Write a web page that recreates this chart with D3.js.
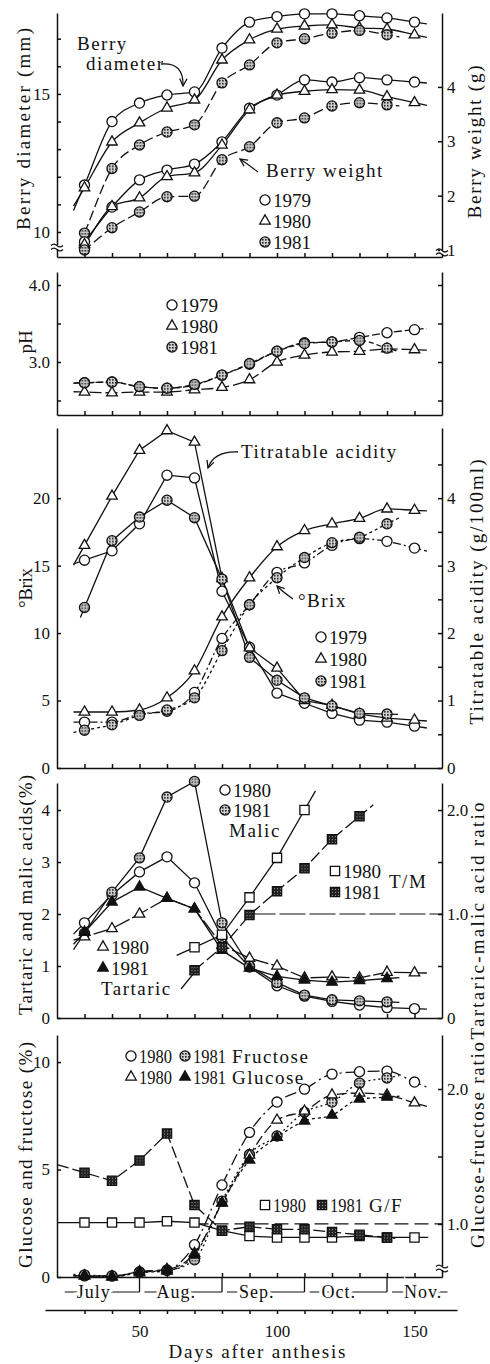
<!DOCTYPE html>
<html lang="en">
<head>
<meta charset="UTF-8" />
<title>Berry development 1979-1981</title>
<script src="https://d3js.org/d3.v7.min.js"></script>
<style>
  body { margin: 0; background: #fff; }
  svg { display: block; background: #fff; font-family: "Liberation Serif", "DejaVu Serif", serif; }
  .axis path, .axis line { stroke: #111; stroke-width: 1.5px; }
  .axis text { font-size: 17px; fill: #111; font-family: "Liberation Serif", serif; }
  .series { fill: none; stroke: #111; stroke-width: 1.3px; }
  .note { font-size: 19px; fill: #111; letter-spacing: 1.5px; }
  .title { font-size: 19px; fill: #111; }
  .leg { font-size: 19px; fill: #111; }
  .month { font-size: 18px; fill: #111; stroke: #fff; stroke-width: 6px; paint-order: stroke; letter-spacing: 1px; }
</style>
</head>
<body>
<svg id="chart" width="490" height="1364"></svg>
<script>
// ---------------------------------------------------------------
// data (days after anthesis)
// ---------------------------------------------------------------
const days = [30, 40, 50, 60, 70, 80, 90, 100, 110, 120, 130, 140, 150];
const days81 = [30, 40, 50, 60, 70, 80, 90, 100, 110, 120, 130, 140];

// berry diameter (mm) and berry weight (g)
const diam1979 = [11.7, 14.0, 14.67, 14.96, 15.07, 16.66, 17.6, 17.8, 17.9, 17.9, 17.83, 17.75, 17.6];
const diam1980 = [11.6, 13.26, 13.95, 14.49, 14.78, 16.23, 16.96, 17.35, 17.46, 17.5, 17.39, 17.35, 17.14];
const diam1981 = [9.96, 12.3, 13.15, 13.62, 13.88, 15.4, 16.05, 16.85, 17.0, 17.2, 17.3, 17.14];
const wt1979 = [1.15, 1.79, 2.29, 2.47, 2.58, 2.99, 3.61, 3.85, 4.13, 4.09, 4.17, 4.13, 4.09];
const wt1980 = [1.1, 1.8, 1.96, 2.35, 2.42, 2.93, 3.58, 3.85, 3.92, 3.95, 3.94, 3.82, 3.71];
const wt1981 = [1.0, 1.41, 1.7, 1.98, 1.99, 2.66, 2.9, 3.34, 3.43, 3.65, 3.71, 3.67];

// pH
const ph1979 = [2.73, 2.74, 2.68, 2.66, 2.70, 2.83, 2.97, 3.14, 3.25, 3.26, 3.32, 3.38, 3.42];
const ph1980 = [2.61, 2.60, 2.61, 2.61, 2.64, 2.67, 2.77, 3.0, 3.09, 3.13, 3.14, 3.17, 3.16];
const ph1981 = [2.73, 2.74, 2.68, 2.66, 2.71, 2.83, 2.98, 3.14, 3.24, 3.26, 3.28, 3.18];

// titratable acidity (g/100ml) and Brix
const ta1979 = [3.08, 3.22, 3.62, 4.34, 4.3, 2.62, 1.79, 1.11, 0.96, 0.81, 0.71, 0.68, 0.62];
const ta1980 = [3.3, 4.03, 4.71, 5.0, 4.83, 2.81, 1.78, 1.48, 1.0, 0.93, 0.8, 0.74, 0.71];
const ta1981 = [2.38, 3.37, 3.72, 3.97, 3.71, 2.8, 1.64, 1.3, 1.04, 0.92, 0.81, 0.8];
const brix1979 = [3.4, 3.4, 4.0, 4.2, 5.6, 9.6, 12.1, 14.5, 15.2, 16.5, 17.0, 16.8, 16.3];
const brix1980 = [4.15, 4.15, 4.3, 5.2, 7.2, 11.2, 14.1, 16.4, 17.6, 18.1, 18.5, 19.2, 19.1];
const brix1981 = [2.8, 3.2, 3.9, 4.3, 5.2, 8.7, 12.1, 14.1, 15.6, 16.7, 17.1, 18.1];

// tartaric and malic acids (%) and T/M ratio
const mal1980 = [1.83, 2.37, 2.81, 3.1, 2.6, 1.55, 0.98, 0.62, 0.42, 0.32, 0.25, 0.2, 0.18];
const mal1981 = [1.63, 2.42, 3.08, 4.25, 4.55, 1.83, 1.0, 0.68, 0.44, 0.35, 0.33, 0.31];
const tar1980 = [1.56, 1.72, 2.0, 2.3, 2.1, 1.4, 1.15, 1.0, 0.77, 0.79, 0.77, 0.88, 0.87];
const tar1981 = [1.65, 2.23, 2.52, 2.3, 2.1, 1.3, 0.96, 0.8, 0.73, 0.69, 0.72, 0.76];
const tmDays80 = [70, 80, 90, 100, 110];
const tm1980 = [0.68, 0.8, 1.16, 1.54, 2.0];
const tmDays81 = [70, 80, 90, 100, 110, 120, 130];
const tm1981 = [0.46, 0.68, 0.99, 1.22, 1.44, 1.72, 1.94];

// glucose and fructose (%) and G/F ratio
const fru1980 = [0.05, 0.05, 0.23, 0.33, 1.5, 4.28, 6.73, 8.14, 8.74, 9.44, 9.55, 9.58, 9.07];
const fru1981 = [0.1, 0.05, 0.23, 0.3, 0.8, 3.53, 5.7, 6.56, 7.67, 8.14, 9.02, 9.26];
const glu1980 = [0.05, 0.02, 0.25, 0.35, 1.1, 3.44, 5.67, 7.3, 7.72, 8.47, 8.56, 8.47, 8.1];
const glu1981 = [0.05, 0.0, 0.2, 0.28, 1.02, 3.45, 5.44, 6.5, 7.26, 7.53, 8.28, 8.37];
const gf1980 = [1.01, 1.01, 1.01, 1.02, 1.01, 0.95, 0.91, 0.9, 0.9, 0.9, 0.91, 0.9, 0.9];
const gf1981 = [1.38, 1.32, 1.47, 1.67, 1.14, 0.95, 0.98, 0.96, 0.96, 0.94, 0.92, 0.9];

// months below the last panel
const monthNames = ["July", "Aug.", "Sep.", "Oct.", "Nov."];
const monthEdges = [21, 50, 80, 110, 140, 162];
const dayTicks = [30, 40, 50, 60, 70, 80, 90, 100, 110, 120, 130, 140, 150];
const dayLabels = [50, 100, 150];

// ---------------------------------------------------------------
// setup
// ---------------------------------------------------------------
const svg = d3.select("#chart");
const x = d3.scaleLinear().domain([20, 160]).range([57, 442]);
const smooth = d3.curveMonotoneX;
const straight = d3.curveLinear;

const defs = svg.append("defs");
const dots = defs.append("pattern").attr("id", "dots")
  .attr("width", 3).attr("height", 3).attr("patternUnits", "userSpaceOnUse");
dots.append("rect").attr("width", 3).attr("height", 3).attr("fill", "#cfcfcf");
dots.append("rect").attr("width", 1.6).attr("height", 1.6).attr("fill", "#222");
const grid = defs.append("pattern").attr("id", "grid")
  .attr("width", 3).attr("height", 3).attr("patternUnits", "userSpaceOnUse");
grid.append("rect").attr("width", 3).attr("height", 3).attr("fill", "#222");
grid.append("rect").attr("width", 1).attr("height", 1).attr("fill", "#999");
defs.append("marker").attr("id", "arrow")
  .attr("viewBox", "0 0 10 10").attr("refX", 9).attr("refY", 5)
  .attr("markerWidth", 7).attr("markerHeight", 7).attr("orient", "auto")
  .append("path").attr("d", "M1,1 L9,5 L1,9")
  .attr("fill", "none").attr("stroke", "#111").attr("stroke-width", 1.4);

const symbols = {
  oc: { type: d3.symbolCircle, size: 80, fill: "#fff" },
  dc: { type: d3.symbolCircle, size: 80, fill: "url(#dots)" },
  ot: { type: d3.symbolTriangle, size: 48, fill: "#fff" },
  ft: { type: d3.symbolTriangle, size: 48, fill: "#111" },
  os: { type: d3.symbolSquare, size: 85, fill: "#fff" },
  fs: { type: d3.symbolSquare, size: 85, fill: "url(#grid)" },
};

function drawSymbol(g, sym, cx, cy) {
  const s = symbols[sym];
  g.append("path")
    .attr("d", d3.symbol().type(s.type).size(s.size)())
    .attr("transform", `translate(${cx},${cy})`)
    .attr("fill", s.fill).attr("stroke", "#111").attr("stroke-width", 1.3);
}

// short stubs before the first and after the last point, like the hand-drawn curves
function extended(pts, a, b) {
  const n = pts.length;
  const p0 = pts[0], p1 = pts[1], q0 = pts[n - 1], q1 = pts[n - 2];
  return [
    [p0[0] - (p1[0] - p0[0]) * a, p0[1] - (p1[1] - p0[1]) * a],
    ...pts,
    [q0[0] + (q0[0] - q1[0]) * b, q0[1] + (q0[1] - q1[1]) * b],
  ];
}

// ---------------------------------------------------------------
// panels
// ---------------------------------------------------------------
const panels = [
  {
    top: 13, bottom: 257, left: [9.094, 17.93], right: [0.871, 5.36],
    lTicks: [10, 11, 12, 13, 14, 15, 16, 17], lShow: [10, 15], lFmt: d3.format("d"),
    rTicks: [1, 2, 3, 4], rShow: [1, 2, 3, 4], rFmt: d3.format("d"),
    series: [
      { xs: days, ys: diam1979, side: "L", sym: "oc", curve: smooth },
      { xs: days, ys: diam1980, side: "L", sym: "ot", curve: smooth },
      { xs: days81, ys: diam1981, side: "L", sym: "dc", curve: smooth, dash: "10,4", ext: [0.2, 0.45] },
      { xs: days, ys: wt1979, side: "R", sym: "oc", curve: smooth, ext: [0.05, 0.45] },
      { xs: days, ys: wt1980, side: "R", sym: "ot", curve: smooth, ext: [0.05, 0.45] },
      { xs: days81, ys: wt1981, side: "R", sym: "dc", curve: smooth, dash: "10,4", ext: [0.05, 0.45] },
    ],
  },
  {
    top: 272, bottom: 415, left: [2.312, 4.169], right: [2.312, 4.169],
    lTicks: [2.5, 3, 3.5, 4], lShow: [3, 4], lFmt: d3.format(".1f"),
    rTicks: [2.5, 3, 3.5, 4], rShow: [], rFmt: d3.format(".1f"),
    series: [
      { xs: days, ys: ph1979, side: "L", sym: "oc", curve: smooth, dash: "8,3" },
      { xs: days, ys: ph1980, side: "L", sym: "ot", curve: smooth, dash: "12,4" },
      { xs: days81, ys: ph1981, side: "L", sym: "dc", curve: smooth, dash: "5,3" },
    ],
  },
  {
    top: 428, bottom: 768, left: [0, 25.2], right: [0, 5.04],
    lTicks: [0, 5, 10, 15, 20], lShow: [0, 5, 10, 15, 20], lFmt: d3.format("d"),
    rTicks: [0, 0.5, 1, 1.5, 2, 2.5, 3, 3.5, 4, 4.5], rShow: [0, 1, 2, 3, 4], rFmt: d3.format("d"),
    series: [
      { xs: days, ys: ta1979, side: "R", sym: "oc", curve: straight },
      { xs: days, ys: ta1980, side: "R", sym: "ot", curve: straight },
      { xs: days81, ys: ta1981, side: "R", sym: "dc", curve: straight, ext: [0.15, 0.4] },
      { xs: days, ys: brix1979, side: "L", sym: "oc", curve: smooth, dash: "8,3,2,3" },
      { xs: days, ys: brix1980, side: "L", sym: "ot", curve: smooth },
      { xs: days81, ys: brix1981, side: "L", sym: "dc", curve: smooth, dash: "3,3" },
    ],
  },
  {
    top: 783, bottom: 1018, left: [0, 4.52], right: [0, 2.26],
    lTicks: [0, 1, 2, 3, 4], lShow: [0, 1, 2, 3, 4], lFmt: d3.format("d"),
    rTicks: [0, 0.5, 1, 1.5, 2], rShow: [0, 1, 2], rFmt: d => (d === 0 ? "0" : d3.format(".1f")(d)),
    refLine: { from: 90, value: 1.0, dash: "26,4" },
    series: [
      { xs: days, ys: mal1980, side: "L", sym: "oc", curve: straight },
      { xs: days81, ys: mal1981, side: "L", sym: "dc", curve: straight },
      { xs: days, ys: tar1980, side: "L", sym: "ot", curve: straight, dash: "18,3" },
      { xs: days81, ys: tar1981, side: "L", sym: "ft", curve: straight },
      { xs: tmDays80, ys: tm1980, side: "R", sym: "os", curve: straight, ext: [0.65, 0.4] },
      { xs: tmDays81, ys: tm1981, side: "R", sym: "fs", curve: straight, dash: "12,4", ext: [0, 0.5] },
    ],
  },
  {
    top: 1035, bottom: 1277, left: [0, 11.26], right: [0.607, 2.4],
    lTicks: [0, 5, 10], lShow: [0, 5, 10], lFmt: d3.format("d"),
    rTicks: [1, 1.5, 2], rShow: [1, 2], rFmt: d3.format(".1f"),
    refLine: { from: 70, value: 1.0, dash: "14,6" },
    series: [
      { xs: days, ys: gf1980, side: "R", sym: "os", curve: straight, ext: [1.0, 0.5] },
      { xs: days81, ys: gf1981, side: "R", sym: "fs", curve: straight, dash: "12,4", ext: [1.0, 0.3] },
      { xs: days, ys: fru1980, side: "L", sym: "oc", curve: smooth, dash: "12,4,2,4" },
      { xs: days81, ys: fru1981, side: "L", sym: "dc", curve: smooth, dash: "2,3" },
      { xs: days, ys: glu1980, side: "L", sym: "ot", curve: smooth, dash: "10,4" },
      { xs: days81, ys: glu1981, side: "L", sym: "ft", curve: smooth, dash: "3,3" },
    ],
  },
];

panels.forEach((p) => {
  const yL = d3.scaleLinear().domain(p.left).range([p.bottom, p.top]);
  const yR = d3.scaleLinear().domain(p.right).range([p.bottom, p.top]);
  const g = svg.append("g");

  if (p.refLine) {
    g.append("line")
      .attr("x1", x(p.refLine.from)).attr("x2", x.range()[1])
      .attr("y1", yR(p.refLine.value)).attr("y2", yR(p.refLine.value))
      .attr("stroke", "#111").attr("stroke-width", 1.2)
      .attr("stroke-dasharray", p.refLine.dash);
  }

  // lines first, symbols on top
  p.series.forEach((s) => {
    const y = s.side === "L" ? yL : yR;
    const pts = s.xs.map((d, i) => [x(d), y(s.ys[i])]);
    const [a, b] = s.ext || [0.4, 0.45];
    g.append("path")
      .attr("class", "series")
      .attr("d", d3.line().curve(s.curve)(extended(pts, a, b)))
      .attr("stroke-dasharray", s.dash || null);
  });
  p.series.forEach((s) => {
    const y = s.side === "L" ? yL : yR;
    s.xs.forEach((d, i) => drawSymbol(g, s.sym, x(d), y(s.ys[i])));
  });

  svg.append("g").attr("class", "axis")
    .attr("transform", `translate(${x.range()[0]},0)`)
    .call(d3.axisLeft(yL).tickValues(p.lTicks).tickSize(-4).tickSizeOuter(0).tickPadding(7)
      .tickFormat((d) => (p.lShow.includes(d) ? p.lFmt(d) : "")));
  svg.append("g").attr("class", "axis")
    .attr("transform", `translate(${x.range()[1]},0)`)
    .call(d3.axisRight(yR).tickValues(p.rTicks).tickSize(-4).tickSizeOuter(0).tickPadding(5)
      .tickFormat((d) => (p.rShow.includes(d) ? p.rFmt(d) : "")));
  svg.append("g").attr("class", "axis")
    .attr("transform", `translate(0,${p.bottom})`)
    .call(d3.axisBottom(x).tickValues(dayTicks).tickSize(-4).tickSizeOuter(0).tickFormat(""));
});

// axis breaks
function breakMark(cx, cy) {
  const b = svg.append("g").attr("fill", "none").attr("stroke", "#111").attr("stroke-width", 1.2);
  b.append("rect").attr("x", cx - 2).attr("y", cy - 2).attr("width", 4).attr("height", 4)
    .attr("fill", "#fff").attr("stroke", "none");
  b.append("path").attr("d", `M${cx - 6},${cy - 1.5} q3,-3 6,0 t6,0`);
  b.append("path").attr("d", `M${cx - 6},${cy + 2.5} q3,-3 6,0 t6,0`);
}
breakMark(57, 247);
breakMark(442, 252);
breakMark(442, 1268);

// ---------------------------------------------------------------
// months and days axis
// ---------------------------------------------------------------
const mRow = svg.append("g");
monthNames.forEach((m, i) => {
  const x0 = x(monthEdges[i]);
  const x1 = x(monthEdges[i + 1]);
  mRow.append("line").attr("x1", x0 + 5).attr("x2", x1).attr("y1", 1292).attr("y2", 1292)
    .attr("stroke", "#111").attr("stroke-width", 1.2);
  if (i > 0) {
    mRow.append("line").attr("x1", x0).attr("x2", x0).attr("y1", 1277).attr("y2", 1292)
      .attr("stroke", "#111").attr("stroke-width", 1.3);
  }
});
monthNames.forEach((m, i) => {
  mRow.append("text").attr("class", "month")
    .attr("x", x(monthEdges[i]) + 17).attr("y", 1298).text(m);
});

const xDays = x.copy().domain([x.invert(45), x.invert(457)]).range([45, 457]);
svg.append("g").attr("class", "axis")
  .attr("transform", "translate(0,1310)")
  .call(d3.axisBottom(xDays).tickValues(dayTicks).tickSize(4).tickSizeOuter(0).tickPadding(11)
    .tickFormat((d) => (dayLabels.includes(d) ? d : "")));

// ---------------------------------------------------------------
// axis titles
// ---------------------------------------------------------------
const titles = [
  { t: "Berry diameter (mm)", x: 30, y: 129, len: 202 },
  { t: "Berry weight (g)", x: 481, y: 142, len: 153 },
  { t: "pH", x: 32, y: 342 },
  { t: "°Brix", x: 32, y: 588, len: 40 },
  { t: "Titratable acidity (g/100ml)", x: 483, y: 592, len: 265 },
  { t: "Tartaric and malic acids(%)", x: 32, y: 895, len: 240 },
  { t: "Tartaric-malic acid ratio", x: 484, y: 921, len: 237 },
  { t: "Glucose and fructose (%)", x: 32, y: 1155, len: 226 },
  { t: "Glucose-fructose ratio", x: 484, y: 1145, len: 206 },
];
titles.forEach((d) => {
  const t = svg.append("text").attr("class", "title")
    .attr("transform", `translate(${d.x},${d.y}) rotate(-90)`)
    .attr("text-anchor", "middle").text(d.t);
  if (d.len) t.attr("textLength", d.len).attr("lengthAdjust", "spacing");
});
svg.append("text").attr("class", "title").attr("x", 257).attr("y", 1358)
  .attr("text-anchor", "middle").attr("textLength", 177).attr("lengthAdjust", "spacing")
  .text("Days after anthesis");

// ---------------------------------------------------------------
// annotations and legends
// ---------------------------------------------------------------
const notes = [
  { t: "Berry", x: 77, y: 50 },
  { t: "diameter", x: 86, y: 70 },
  { t: "Berry weight", x: 266, y: 177 },
  { t: "Titratable acidity", x: 241, y: 458 },
  { t: "°Brix", x: 298, y: 607 },
  { t: "Malic", x: 229, y: 837 },
  { t: "T/M", x: 389, y: 888 },
  { t: "Tartaric", x: 101, y: 995 },
];
notes.forEach((d) => svg.append("text").attr("class", "note").attr("x", d.x).attr("y", d.y).text(d.t));

const arrows = [
  "M161,64 Q184,62 183,86",
  "M258,172 Q249,165 240,159",
  "M238,452 Q214,451 208,468",
  "M293,599 Q283,592 277,586",
];
arrows.forEach((d) => svg.append("path").attr("d", d).attr("fill", "none")
  .attr("stroke", "#111").attr("stroke-width", 1.3).attr("marker-end", "url(#arrow)"));
svg.append("path").attr("d", "M181,989 L194,973").attr("fill", "none")
  .attr("stroke", "#111").attr("stroke-width", 1.2);

const legends = [
  { x: 265, y: 200, rows: [["oc", "1979"], ["ot", "1980"], ["dc", "1981"]], dy: 21 },
  { x: 172, y: 305, rows: [["oc", "1979"], ["ot", "1980"], ["dc", "1981"]], dy: 21 },
  { x: 321, y: 637, rows: [["oc", "1979"], ["ot", "1980"], ["dc", "1981"]], dy: 22 },
  { x: 225, y: 790, rows: [["oc", "1980"], ["dc", "1981"]], dy: 20 },
  { x: 335, y: 871, rows: [["os", "1980"], ["fs", "1981"]], dy: 21 },
  { x: 103, y: 947, rows: [["ot", "1980"], ["ft", "1981"]], dy: 21 },
];
legends.forEach((l) => {
  l.rows.forEach((r, i) => {
    const cy = l.y + i * l.dy;
    drawSymbol(svg, r[0], l.x, cy);
    svg.append("text").attr("class", "leg").attr("x", l.x + 8).attr("y", cy + 7).text(r[1]);
  });
});

// sugar panel legends (two per row)
const sugarRows = [
  { y: 1056, items: [["oc", "1980", 131], ["dc", "1981", 185]], label: "Fructose", lx: 232 },
  { y: 1077, items: [["ot", "1980", 131], ["ft", "1981", 185]], label: "Glucose", lx: 232 },
  { y: 1205, items: [["os", "1980", 265], ["fs", "1981", 322]], label: "G/F", lx: 369 },
];
sugarRows.forEach((r) => {
  r.items.forEach((it) => {
    drawSymbol(svg, it[0], it[2], r.y);
    svg.append("text").attr("class", "leg").attr("x", it[2] + 8).attr("y", r.y + 7)
      .attr("textLength", 33).attr("lengthAdjust", "spacingAndGlyphs").text(it[1]);
  });
  svg.append("text").attr("class", "note").attr("x", r.lx).attr("y", r.y + 7).text(r.label);
});
</script>
</body>
</html>
